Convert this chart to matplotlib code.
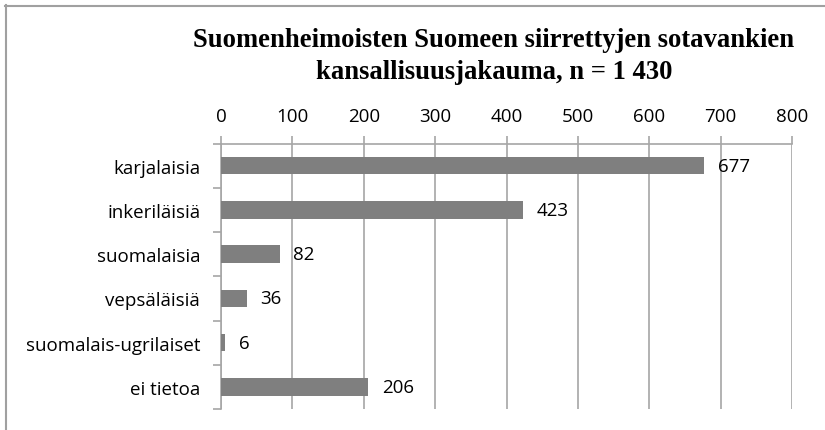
import matplotlib.pyplot as plt
from matplotlib.lines import Line2D
import numpy as np

categories = ["karjalaisia", "inkeriläisiä", "suomalaisia", "vepsäläisiä",
              "suomalais-ugrilaiset", "ei tietoa"]
values = [677, 423, 82, 36, 6, 206]
xticks = [0, 100, 200, 300, 400, 500, 600, 700, 800]
title_lines = ["Suomenheimoisten Suomeen siirrettyjen sotavankien",
               "kansallisuusjakauma, n = 1 430"]

plt.rcParams["font.family"] = ["Open Sans", "DejaVu Sans"]

W, H = 825, 431
fig = plt.figure(figsize=(W / 100, H / 100), dpi=100)
ax = fig.add_axes([221 / W, 21 / H, (792 - 221) / W, (410 - 144.5) / H])

grid_c = "#a6a6a6"
y = np.arange(len(categories))
bars = ax.barh(y, values, height=0.4, color="#7f7f7f", zorder=3)

ax.set_xlim(0, 800)
ax.set_ylim(len(categories) - 0.5, -0.5)
ax.set_xticks(xticks)
ax.xaxis.tick_top()
ax.tick_params(axis="x", direction="out", length=6, color=grid_c, width=1.2,
               labelsize=13.5, pad=7)
ax.grid(axis="x", color=grid_c, linewidth=1.2, zorder=0)

ax.set_yticks(y)
ax.set_yticklabels(categories)
ax.set_yticks(np.arange(-0.5, len(categories)), minor=True)
ax.tick_params(axis="y", which="major", length=0, labelsize=13.5, pad=15)
ax.tick_params(axis="y", which="minor", direction="out", length=6, color=grid_c, width=1.2)

for s in ["right", "bottom"]:
    ax.spines[s].set_visible(False)
for s in ["top", "left"]:
    ax.spines[s].set_color(grid_c)
    ax.spines[s].set_linewidth(1.2)

ax.bar_label(bars, labels=[str(v) for v in values], padding=10, fontsize=13.5)

# title, two lines placed on their baselines
for line, base in zip(title_lines, [47, 79]):
    fig.text(494 / W, 1 - base / H, line, ha="center", va="baseline",
             family="Liberation Serif", fontweight="bold", fontsize=19.2)

# chart border (top and left visible)
fig.add_artist(Line2D([5 / W, 1], [1 - 6.5 / H, 1 - 6.5 / H], color="#a0a0a0", lw=1.5))
fig.add_artist(Line2D([5.5 / W, 5.5 / W], [0, 1 - 6 / H], color="#a0a0a0", lw=1.5))

fig.savefig("out.png", dpi=100)
